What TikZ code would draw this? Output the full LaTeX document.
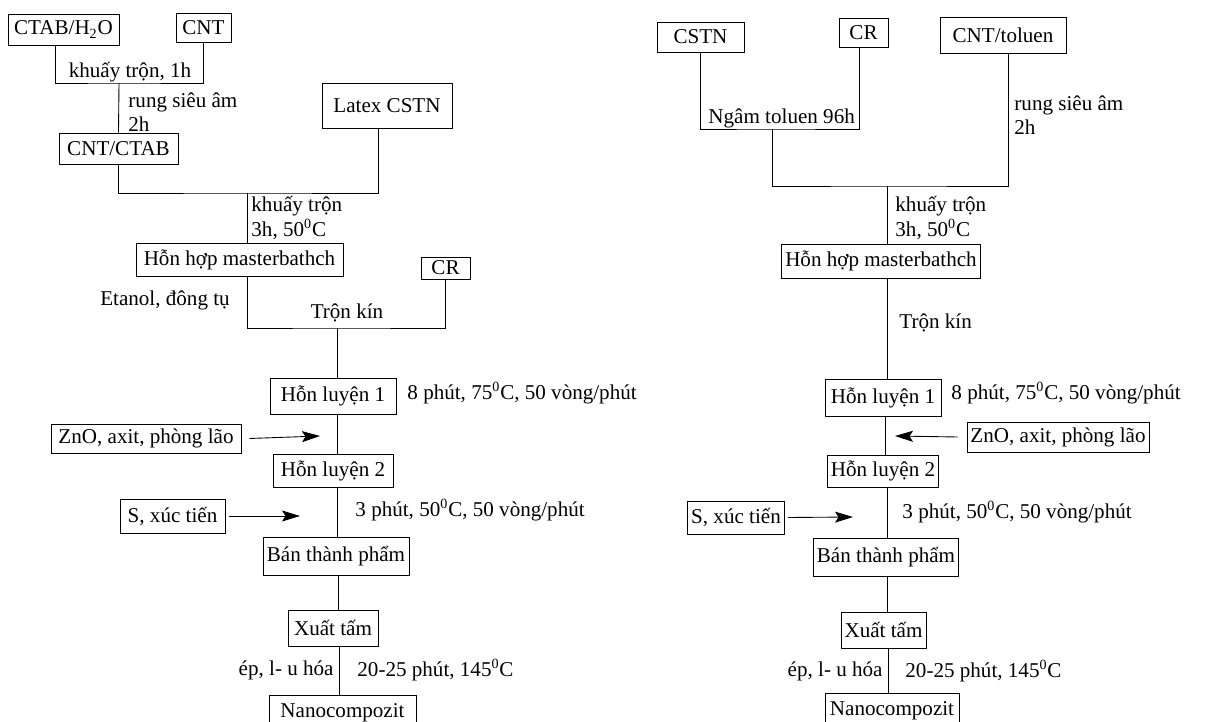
\documentclass[tikz,border=0pt]{standalone}
\usepackage{fontspec}
\setmainfont{Liberation Serif}
\usetikzlibrary{arrows.meta}

\begin{document}
\begin{tikzpicture}[x=0.02cm, y=-0.02cm, line width=0.5pt,
              font=\fontsize{12}{14}\selectfont,
              box/.style = {draw, inner xsep=2pt, inner ysep=1pt, minimum height=0.64cm},
              lbl/.style = {inner sep=0pt, align=left},
              feed/.style = {-{Stealth[length=3.6mm, width=2.2mm, inset=0.7mm]}}]
\useasboundingbox (0,0) rectangle (1210,722);
\clip (0,0) rectangle (1210,722);
% left route: latex masterbatch
\node[box, minimum width=2.22cm, minimum height=0.62cm] (ctab) at (63.5,29.5) {CTAB/H\textsubscript{2}O};
\node[box, minimum width=1.1cm, minimum height=0.58cm] (cnt) at (203.5,27.5) {CNT};
\node[box, minimum width=2.38cm, minimum height=0.62cm] (cntctab) at (118.5,148.5) {CNT/CTAB};
\node[box, minimum width=2.6cm, minimum height=0.9cm] (latex) at (387,105.5) {Latex CSTN};
\node[box, minimum width=4.14cm, minimum height=0.66cm] (mixL) at (239.5,259.5) {Hỗn hợp masterbathch};
\node[box, minimum width=0.98cm, minimum height=0.44cm, inner ysep=0pt] (crL) at (445.5,268) {CR};
\node[box, minimum width=2.52cm, minimum height=0.72cm] (hl1L) at (333,396) {Hỗn luyện 1};
\node[box, minimum width=3.8cm, minimum height=0.58cm] (znoL) at (146,438.5) {ZnO, axit, phòng lão};
\node[box, minimum width=2.4cm, minimum height=0.66cm] (hl2L) at (333,470.5) {Hỗn luyện 2};
\node[box, minimum width=2.1cm, minimum height=0.68cm] (sL) at (172.5,516) {S, xúc tiến};
\node[box, minimum width=2.92cm, minimum height=0.76cm] (btpL) at (336,556) {Bán thành phẩm};
\node[box, minimum width=1.8cm, minimum height=0.72cm] (xtL) at (333,628) {Xuất tấm};
\node[box, minimum width=2.94cm, minimum height=0.68cm, anchor=north] (nanoL) at (342.5,695) {Nanocompozit};
\coordinate (jA) at (119,83);
\coordinate (jB) at (247,193);
\coordinate (jC) at (337,328);
\coordinate (inA) at (320,436);
\coordinate (inB) at (300,516);
\draw ([xshift=-0.17cm]ctab.south) |- (jA) -| (cnt.south);
\draw (jA) -- (cntctab.north);
\draw (cntctab.south) |- (jB) -| ([xshift=-0.18cm]latex.south);
\draw (jB) -- (jB |- mixL.north);
\draw (jB |- mixL.south) |- (jC) -| (crL.south);
\draw (jC) -- (jC |- hl1L.north);
\draw (jC |- hl1L.south) -- (jC |- hl2L.north);
\draw (jC |- hl2L.south) -- (jC |- btpL.north);
\draw ([xshift=0.02cm]jC |- btpL.south) -- ([xshift=0.02cm]jC |- xtL.north);
\draw ([xshift=0.04cm]jC |- xtL.south) -- ([xshift=0.04cm]jC |- nanoL.north);
\draw[feed] (znoL.east) ++(8,0) -- (inA);
\draw[feed] (sL.east) ++(4,0) -- (inB);
\node[lbl] (l1) at (130,72) {khuấy trộn, 1h};
\node[lbl, anchor=west] (l2) at (128,112) {rung siêu âm\\2h};
\node[lbl, anchor=west] (l3) at (251,218) {khuấy trộn\\3h, 50\textsuperscript{0}C};
\node[lbl] (l4) at (165,300) {Etanol, đông tụ};
\node[lbl] (l5) at (347,313) {Trộn kín};
\node[lbl, anchor=west] (l6) at (407,393) {8 phút, 75\textsuperscript{0}C, 50 vòng/phút};
\node[lbl, anchor=west] (l7) at (355,510) {3 phút, 50\textsuperscript{0}C, 50 vòng/phút};
\node[lbl, anchor=east] (l8) at (334,670) {ép, l- u hóa};
\node[lbl, anchor=west] (l9) at (357,670) {20-25 phút, 145\textsuperscript{0}C};
% right route: toluene solution
\node[box, minimum width=1.74cm, minimum height=0.6cm] (cstn) at (700.5,37) {CSTN};
\node[box, minimum width=0.98cm, minimum height=0.58cm] (crR) at (863.5,32.5) {CR};
\node[box, minimum width=2.52cm, minimum height=0.72cm] (cntt) at (1003,35) {CNT/toluen};
\node[box, minimum width=3.8cm, minimum height=0.68cm] (mixR) at (881,261) {Hỗn hợp masterbathch};
\node[box, minimum width=2.32cm, minimum height=0.74cm] (hl1R) at (883,397.5) {Hỗn luyện 1};
\node[box, minimum width=3.48cm, minimum height=0.6cm] (znoR) at (1058,437) {ZnO, axit, phòng lão};
\node[box, minimum width=2.2cm, minimum height=0.64cm] (hl2R) at (883,471) {Hỗn luyện 2};
\node[box, minimum width=1.92cm, minimum height=0.66cm] (sR) at (736,517.5) {S, xúc tiến};
\node[box, minimum width=2.68cm, minimum height=0.76cm] (btpR) at (886,557) {Bán thành phẩm};
\node[box, minimum width=1.66cm, minimum height=0.72cm] (xtR) at (883.5,630) {Xuất tấm};
\node[box, minimum width=2.68cm, minimum height=0.68cm, anchor=north] (nanoR) at (892,693) {Nanocompozit};
\coordinate (kA) at (772,129);
\coordinate (kB) at (887,186);
\coordinate (inC) at (895,436);
\coordinate (inD) at (853,517);
\draw (cstn.south) |- (kA) -| ([xshift=-0.09cm]crR.south);
\draw (kA) |- (kB) -| ([xshift=0.1cm]cntt.south);
\draw (kB) -- (kB |- mixR.north);
\draw (kB |- mixR.south) -- (kB |- hl1R.north);
\draw ([xshift=-0.04cm]kB |- hl1R.south) -- ([xshift=-0.04cm]kB |- hl2R.north);
\draw (kB |- hl2R.south) -- (kB |- btpR.north);
\draw (kB |- btpR.south) -- (kB |- xtR.north);
\draw ([xshift=0.02cm]kB |- xtR.south) -- ([xshift=0.02cm]kB |- nanoR.north);
\draw[feed] (znoR.west) ++(-9,0) -- (inC);
\draw[feed] (sR.east) ++(3,0) -- (inD);
\node[lbl, anchor=base west] (r1) at (708,124) {Ngâm toluen 96h};
\node[lbl, anchor=west] (r2) at (1014,115) {rung siêu âm\\2h};
\node[lbl, anchor=west] (r3) at (895,218) {khuấy trộn\\3h, 50\textsuperscript{0}C};
\node[lbl, anchor=west] (r4) at (899,323) {Trộn kín};
\node[lbl, anchor=west] (r5) at (951,393) {8 phút, 75\textsuperscript{0}C, 50 vòng/phút};
\node[lbl, anchor=west] (r6) at (902,512) {3 phút, 50\textsuperscript{0}C, 50 vòng/phút};
\node[lbl, anchor=east] (r7) at (883,671) {ép, l- u hóa};
\node[lbl, anchor=west] (r8) at (905,671) {20-25 phút, 145\textsuperscript{0}C};
\end{tikzpicture}
\end{document}
